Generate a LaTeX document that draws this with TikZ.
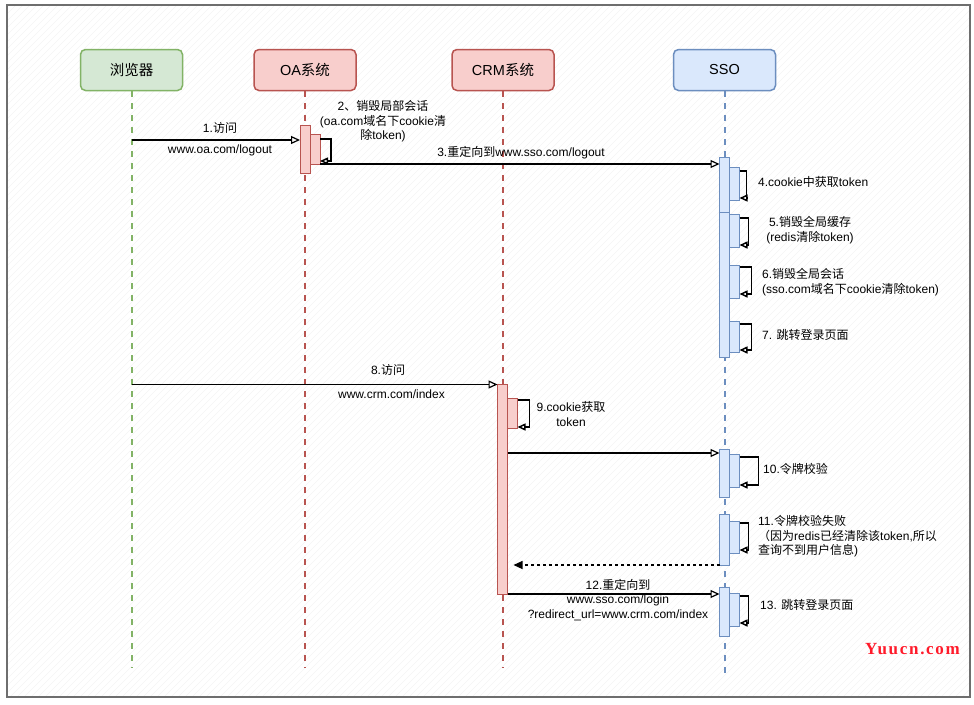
\documentclass[tikz,border=0pt]{standalone}
\usepackage{fontspec}
\setmainfont{Liberation Sans}
\newfontfamily\cjk{Noto Sans CJK SC}
\newfontfamily\wmfont[LetterSpace=10]{Liberation Serif Bold}
\newcommand\zh[1]{{\cjk #1}}
\usetikzlibrary{arrows.meta}
\definecolor{gFill}{HTML}{D5E8D4}\definecolor{gLine}{HTML}{82B366}
\definecolor{rFill}{HTML}{F8CECC}\definecolor{rLine}{HTML}{B85450}
\definecolor{bFill}{HTML}{DAE8FC}\definecolor{bLine}{HTML}{6C8EBF}
\definecolor{frameC}{HTML}{6E6E6E}
\definecolor{wmC}{HTML}{FF1A2A}
\tikzset{
  hdr/.style={draw, line width=1.5pt, rounded corners=5pt, minimum width=102pt, minimum height=41pt, inner sep=0pt, font=\fontsize{14.5}{17}\selectfont},
  hdrG/.style={hdr, fill=gFill, draw=gLine},
  hdrR/.style={hdr, fill=rFill, draw=rLine},
  hdrB/.style={hdr, fill=bFill, draw=bLine},
  life/.style={line width=2pt, dash pattern=on 6pt off 6pt},
  act/.style={draw, line width=1pt, inner sep=0pt, outer sep=0pt, minimum width=10pt, anchor=north west},
  actR/.style={act, fill=rFill, draw=rLine},
  actB/.style={act, fill=bFill, draw=bLine},
  msg/.style={draw=black, line width=1.2pt, -{Triangle[open, length=9pt, width=8pt]}},
  ret/.style={draw=black, line width=1.1pt, dash pattern=on 3pt off 3pt, -{Triangle[length=9pt, width=8pt]}},
  self/.style={draw=black, line width=1.5pt, -{Triangle[open, length=8pt, width=7pt]}},
  lbl/.style={inner sep=0pt, font=\fontsize{12}{14.5}\selectfont},
}
\begin{document}
\begin{tikzpicture}[x=1pt, y=-1pt]
\useasboundingbox (0,0) rectangle (974,704);
\fill[white] (0,0) rectangle (974,704);
\begin{scope}
  \clip (7,5) rectangle (970,697);
  \foreach \i in {0,7,...,1690} \draw[black!4, line width=0.6pt] (\i,0) -- (\i-704,704);
\end{scope}
\draw[frameC, line width=1.6pt] (7,5) rectangle (970,697);

% headers
\node[hdrG] (br) at (131.5,70) {\zh{浏览器}};
\node[hdrR] (oa) at (305,70) {OA\zh{系统}};
\node[hdrR] (crm) at (503,70) {CRM\zh{系统}};
\node[hdrB] (sso) at (724.5,70) {SSO};

% lifeline ends
\coordinate (brEnd) at (131.5,668);
\coordinate (oaEnd) at (305,668);
\coordinate (crmEnd) at (503,668);
\coordinate (ssoEnd) at (724.5,679);
\draw[life, gLine] (br.south) -- (brEnd);
\draw[life, rLine] (oa.south) -- (oaEnd);
\draw[life, rLine] (crm.south) -- (crmEnd);
\draw[life, bLine] (sso.south) -- (ssoEnd);

% activation boxes
\node[actR, minimum height=48pt] (oaA) at (300,125) {};
\node[actR, minimum height=30pt] (oaB) at (310,134) {};
\node[actB, minimum height=55pt] (sA1) at (719.5,157) {};
\node[actB, minimum height=145pt] (sA2) at (719.5,212) {};
\node[actB, minimum height=33pt] (s4) at (729.5,167) {};
\node[actB, minimum height=33pt] (s5) at (729.5,214) {};
\node[actB, minimum height=33pt] (s6) at (729.5,265) {};
\node[actB, minimum height=31pt] (s7) at (729.5,321) {};
\node[actR, minimum height=210pt] (crmA) at (497.5,384) {};
\node[actR, minimum height=30pt] (c9) at (507.5,398) {};
\node[actB, minimum height=48pt] (s10a) at (719.5,449) {};
\node[actB, minimum height=33pt] (s10b) at (729.5,454) {};
\node[actB, minimum height=51pt] (s11a) at (719.5,514) {};
\node[actB, minimum height=32pt] (s11b) at (729.5,521) {};
\node[actB, minimum height=49pt] (s13a) at (719.5,587) {};
\node[actB, minimum height=33pt] (s13b) at (729.5,593) {};

% self loops
\draw[self] ([yshift=-5pt]oaB.north east) -- ++(11,0) |- ([yshift=3pt]oaB.south east);
\draw[self] ([yshift=-4pt]s4.north east) -- ++(7,0) |- ([yshift=2pt]s4.south east);
\draw[self] ([yshift=-4pt]s5.north east) -- ++(9,0) |- ([yshift=2pt]s5.south east);
\draw[self] ([yshift=-2pt]s6.north east) -- ++(12,0) |- ([yshift=4pt]s6.south east);
\draw[self] ([yshift=-3pt]s7.north east) -- ++(12,0) |- ([yshift=2pt]s7.south east);
\draw[self] ([yshift=-2pt]c9.north east) -- ++(12,0) |- ([yshift=1pt]c9.south east);
\draw[self] ([yshift=-3pt]s10b.north east) -- ++(19,0) |- ([yshift=2pt]s10b.south east);
\draw[self] ([yshift=-2pt]s11b.north east) -- ++(9,0) |- ([yshift=3pt]s11b.south east);
\draw[self] ([yshift=-3pt]s13b.north east) -- ++(9,0) |- ([yshift=3pt]s13b.south east);

% messages
\coordinate (m1s) at (131.5,140);
\draw[msg] (m1s) -- (m1s -| oaA.west);
\draw[msg] (oaB.south east) -- (oaB.south east -| sA1.west);
\coordinate (m8s) at (131.5,384.5);
\draw[msg] (m8s) -- (m8s -| crmA.west);
\coordinate (m10e) at ([yshift=-4pt]s10a.north west);
\draw[msg] (m10e -| crmA.east) -- (m10e);
\coordinate (m11e) at ([xshift=6pt]crmA.east |- s11a.south west);
\draw[ret] (s11a.south west) -- (m11e);
\draw[msg] (crmA.south east) -- (crmA.south east -| s13a.west);

% labels
\node[lbl] (l1a) at (220,128) {1.\zh{访问}};
\node[lbl] (l1b) at (220,150) {www.oa.com/logout};
\node[lbl, align=center] (l2) at (383,121.5) {2\zh{、销毁局部会话}\\(oa.com\zh{域名下}cookie\zh{清}\\\zh{除}token)};
\node[lbl] (l3) at (521,153) {3.\zh{重定向到}www.sso.com/logout};
\node[lbl, anchor=west] (l4) at (758,182) {4.cookie\zh{中获取}token};
\node[lbl, align=center] (l5) at (810,230) {5.\zh{销毁全局缓存}\\(redis\zh{清除}token)};
\node[lbl, anchor=west, align=left] (l6) at (762,282) {6.\zh{销毁全局会话}\\(sso.com\zh{域名下}cookie\zh{清除}token)};
\node[lbl, anchor=west] (l7) at (762,335) {7. \zh{跳转登录页面}};
\node[lbl] (l8a) at (388,370) {8.\zh{访问}};
\node[lbl] (l8b) at (391.5,394) {www.crm.com/index};
\node[lbl, align=center] (l9) at (571,414) {9.cookie\zh{获取}\\token};
\node[lbl, anchor=west] (l10) at (763,469) {10.\zh{令牌校验}};
\node[lbl, anchor=west, align=left] (l11) at (758,536.5) {11.\zh{令牌校验失败}\\\zh{（因为}redis\zh{已经清除该}token,\zh{所以}\\\zh{查询不到用户信息})};
\node[lbl, align=center] (l12) at (618,600) {12.\zh{重定向到}\\www.sso.com/login\\?redirect\_url=www.crm.com/index};
\node[lbl, anchor=west] (l13) at (760,605) {13. \zh{跳转登录页面}};
\node[inner sep=0pt, text=wmC, font=\wmfont\fontsize{17}{20}\selectfont] (wm) at (912.5,649) {Yuucn.com};
\end{tikzpicture}
\end{document}
